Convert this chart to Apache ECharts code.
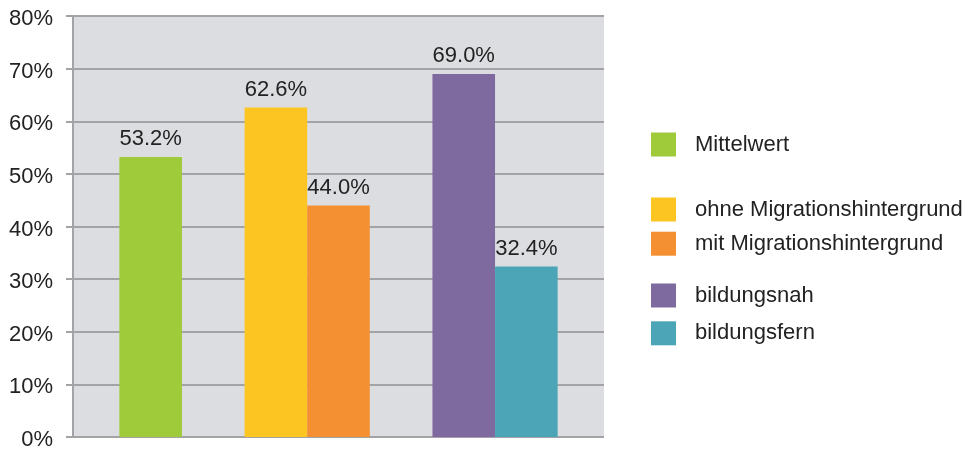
<!DOCTYPE html>
<html>
<head>
<meta charset="utf-8">
<script src="https://cdn.jsdelivr.net/npm/echarts@6/dist/echarts.min.js"></script>
<style>
  html, body { margin: 0; padding: 0; background: #ffffff; }
  #chart { width: 973px; height: 452px; }
</style>
</head>
<body>
<div id="chart"></div>
<script>
// Series (one bar each) and their values in percent
const seriesNames = ['Mittelwert', 'ohne Migrationshintergrund', 'mit Migrationshintergrund', 'bildungsnah', 'bildungsfern'];
const seriesValues = [53.2, 62.6, 44.0, 69.0, 32.4];
// Bars that sit side by side, by index into seriesNames
const barGroups = [[0], [1, 2], [3, 4]];
// Y axis ticks
const yTicks = [0, 10, 20, 30, 40, 50, 60, 70, 80];

const colors = ['#9fcb3b', '#fdc521', '#f48f32', '#7e6a9f', '#4ba5b7'];
const FONT = '"Liberation Sans", Arial, Helvetica, sans-serif';

// Place the bars on a slot scale, leaving one empty slot between groups
const slotOf = [];
let slot = 0;
barGroups.forEach(function (g) {
  g.forEach(function (idx) { slotOf[idx] = slot++; });
  slot++;
});
const lastSlot = slot - 2;
const pad = 1.24;

const series = seriesNames.map(function (name, i) {
  return {
    type: 'bar',
    name: name,
    data: [[slotOf[i], seriesValues[i]]],
    barWidth: 62.6,
    barGap: '-100%',
    itemStyle: { color: colors[i] },
    label: {
      show: true,
      position: 'top',
      distance: 7,
      color: '#222',
      fontFamily: FONT,
      fontSize: 22,
      formatter: function (p) { return p.value[1].toFixed(1) + '%'; }
    }
  };
});

// Legend entries are stacked with uneven spacing
const legendCenters = [144.5, 209.5, 243.7, 295.5, 333.3];
const legends = seriesNames.map(function (name, i) {
  return {
    left: 651,
    top: legendCenters[i] - 12,
    padding: 0,
    orient: 'vertical',
    icon: 'rect',
    itemWidth: 25,
    itemHeight: 24,
    selectedMode: false,
    data: [name],
    textStyle: {
      color: '#222',
      fontFamily: FONT,
      fontSize: 22,
      padding: [0, 0, 0, 14]
    }
  };
});

const chart = echarts.init(document.getElementById('chart'), null, { renderer: 'canvas' });
chart.setOption({
  animation: false,
  color: colors,
  legend: legends,
  grid: {
    left: 73,
    right: 369,
    top: 16,
    bottom: 15,
    show: true,
    backgroundColor: '#dcdde0',
    borderWidth: 0,
    containLabel: false
  },
  xAxis: {
    type: 'value',
    min: -pad,
    max: lastSlot + pad,
    show: false
  },
  yAxis: {
    type: 'value',
    min: yTicks[0],
    max: yTicks[yTicks.length - 1],
    interval: yTicks[1] - yTicks[0],
    axisLine: { show: true, onZero: false, lineStyle: { color: '#a3a3a5', width: 2 } },
    axisTick: { show: true, length: 7, lineStyle: { color: '#a3a3a5', width: 2 } },
    splitLine: { show: true, lineStyle: { color: '#a3a3a5', width: 2 } },
    axisLabel: {
      margin: 20,
      color: '#222',
      fontFamily: FONT,
      fontSize: 22,
      verticalAlign: 'top',
      lineHeight: 6,
      formatter: '{value}%'
    }
  },
  series: series
});
</script>
</body>
</html>
